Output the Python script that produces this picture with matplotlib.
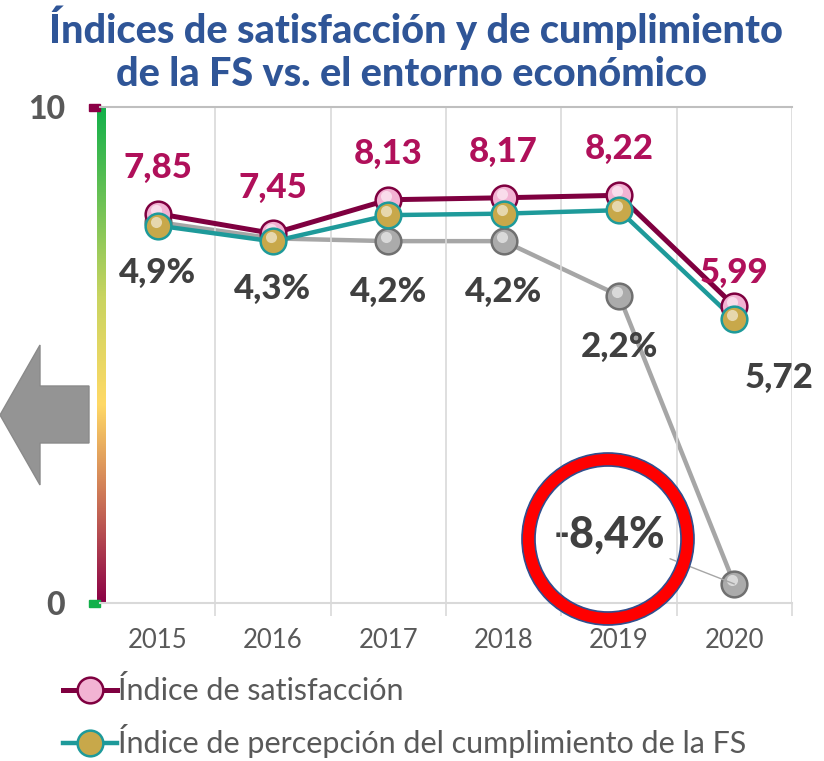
"""
Índices de satisfacción y cumplimiento de la FS vs. entorno económico
"""
import matplotlib.pyplot as plt
import matplotlib.transforms as mtransforms
from matplotlib.patches import Rectangle, Polygon, Ellipse
from matplotlib.colors import LinearSegmentedColormap
from matplotlib.lines import Line2D
import numpy as np

plt.rcParams['font.family'] = ['Lato', 'DejaVu Sans']

# data
years = ['2015', '2016', '2017', '2018', '2019', '2020']
satisfaccion = [7.85, 7.45, 8.13, 8.17, 8.22, 5.99]
cumplimiento = [7.61, 7.29, 7.82, 7.85, 7.92, 5.72]
pib = [4.9, 4.3, 4.2, 4.2, 2.2, -8.4]
pib_labels = ['4,9%', '4,3%', '4,2%', '4,2%', '2,2%', '-8,4%']

W, H = 824, 761
MAROON = '#7F0040'
LABEL_MAG = '#B0105A'
TEAL = '#1E9A9A'
GRAY = '#A6A6A6'
DARK = '#404040'
MS = 18.5


def fx(x):
    return x / W


def fy(y):
    return 1 - y / H


fig = plt.figure(figsize=(W / 100, H / 100), dpi=100)
ax = fig.add_axes([fx(100), fy(603), (792 - 100) / W, (603 - 107) / H])
ax2 = ax.twinx()

x = np.arange(len(years))

# lines
ax2.plot(x, pib, color=GRAY, lw=3.2, zorder=2)
ax.plot(x, cumplimiento, color=TEAL, lw=3.2, zorder=3)
ax.plot(x, satisfaccion, color=MAROON, lw=3.6, zorder=2)


# spherical markers
def spheres(axis, yv, face, edge, z):
    axis.plot(x, yv, ls='none', marker='o', ms=MS, mfc=face, mec=edge,
              mew=1.8, zorder=z)
    hl = mtransforms.offset_copy(axis.transData, fig=fig, x=-2, y=4, units='dots')
    axis.plot(x, yv, ls='none', marker='o', ms=8, mfc='white', mec='none',
              alpha=0.55, transform=hl, zorder=z + 0.1)


ax.set_zorder(ax2.get_zorder() + 1)
ax.patch.set_visible(False)
spheres(ax, satisfaccion, '#F2B3D3', MAROON, 4)
spheres(ax, cumplimiento, '#C8A84A', TEAL, 5)
spheres(ax2, pib, '#ABABAB', '#707070', 6)

# limits
ax.set_xlim(-0.5, len(years) - 0.5)
ax.set_ylim(0, 10)
ax2.set_ylim(-9.1, 9.13)

# axes styling
ax.set_xticks(x)
ax.set_xticklabels(years, fontsize=18.5, color='#595959')
ax.set_xticks(np.arange(0.5, len(years), 1), minor=True)
ax.tick_params(axis='x', which='major', length=0, pad=18)
ax.tick_params(axis='x', which='minor', length=9, color='#D9D9D9', width=1.2)
ax.grid(axis='x', which='minor', color='#D9D9D9', lw=1.2)
ax.set_yticks([0, 10])
ax.set_yticklabels(['0', '10'], fontsize=23, fontweight='black', color='#595959')
ax.tick_params(axis='y', length=0, pad=25)
for s in ['left', 'right']:
    ax.spines[s].set_visible(False)
ax.spines['top'].set_color('#BFBFBF')
ax.spines['top'].set_linewidth(1.5)
ax.spines['bottom'].set_color('#D9D9D9')
ax.spines['bottom'].set_linewidth(1.5)
ax2.set_yticks([])
for s in ax2.spines.values():
    s.set_visible(False)

# gradient y-axis bar
gax = fig.add_axes([fx(97), fy(603), 9 / W, (603 - 107) / H])
cmap = LinearSegmentedColormap.from_list('g', [
    (0.0, '#12B04A'), (0.38, '#C8D460'), (0.6, '#FFD966'),
    (0.78, '#CF7A57'), (1.0, '#8B0046')])
gax.imshow(np.linspace(0, 1, 256).reshape(-1, 1), aspect='auto', cmap=cmap)
gax.axis('off')
fig.add_artist(Rectangle((fx(89), fy(111)), 11 / W, 7 / H, color='#8B0046',
                         transform=fig.transFigure))
fig.add_artist(Rectangle((fx(89), fy(607)), 11 / W, 7 / H, color='#12B04A',
                         transform=fig.transFigure))

# labels
for i, v in enumerate(satisfaccion):
    dy = 33 if i == len(years) - 1 else 46
    ax.annotate(f'{v:.2f}'.replace('.', ','), (x[i], v), xytext=(0, dy),
                textcoords='offset pixels', ha='center', va='center',
                fontsize=25, fontweight='black', color=LABEL_MAG, zorder=10)

for i in range(len(years) - 1):
    ax2.annotate(pib_labels[i], (x[i], pib[i]), xytext=(0, -51),
                 textcoords='offset pixels', ha='center', va='center',
                 fontsize=25, fontweight='black', color=DARK, zorder=10)

ax2.annotate(pib_labels[-1], (x[-1], pib[-1]), xytext=(-125, 49),
             textcoords='offset pixels', ha='center', va='center',
             fontsize=31, fontweight='black', color=DARK, zorder=10,
             arrowprops=dict(arrowstyle='-', color='#A6A6A6', lw=1,
                             shrinkA=2, shrinkB=0))

ax.annotate(f'{cumplimiento[-1]:.2f}'.replace('.', ','),
            (x[-1], cumplimiento[-1]), xytext=(45, -59),
            textcoords='offset pixels', ha='center', va='center',
            fontsize=25, fontweight='black', color=DARK, zorder=10)

# red ring around -8,4%
cx, cy = fx(608), fy(539)
for r, lw, c in [(79.5, 9.6, '#FF0000'), (86, 1.2, '#2F4F8F'), (73, 1.2, '#2F4F8F')]:
    fig.add_artist(Ellipse((cx, cy), 2 * r / W, 2 * r / H, fill=False,
                           edgecolor=c, lw=lw, transform=fig.transFigure,
                           zorder=20))

# left arrow
arrow = [(0, 415), (40, 345), (40, 386), (89, 386), (89, 443),
         (40, 443), (40, 485)]
fig.add_artist(Polygon([(fx(a), fy(b)) for a, b in arrow], closed=True,
                       facecolor='#949494', edgecolor='#8A8A8A',
                       transform=fig.transFigure))

# title
fig.text(fx(416), fy(28), 'Índices de satisfacción y de cumplimiento',
         ha='center', va='center', fontsize=28.5, fontweight='black',
         color='#2F5597')
fig.text(fx(412), fy(75), 'de la FS vs. el entorno económico',
         ha='center', va='center', fontsize=28.5, fontweight='black',
         color='#2F5597')

# legend
handles = [
    Line2D([], [], color=MAROON, lw=3.6, marker='o', ms=MS, mfc='#F2B3D3',
           mec=MAROON, mew=1.8),
    Line2D([], [], color=TEAL, lw=3.2, marker='o', ms=MS, mfc='#C8A84A',
           mec=TEAL, mew=1.8),
]
fig.legend(handles, ['Índice de satisfacción',
                     'Índice de percepción del cumplimiento de la FS'],
           loc='upper left', bbox_to_anchor=(fx(48), fy(661)), frameon=False,
           fontsize=22, labelcolor='#595959', handlelength=1.75,
           handletextpad=0.05, labelspacing=0.62, borderpad=0)

fig.savefig('out.png', dpi=100)
